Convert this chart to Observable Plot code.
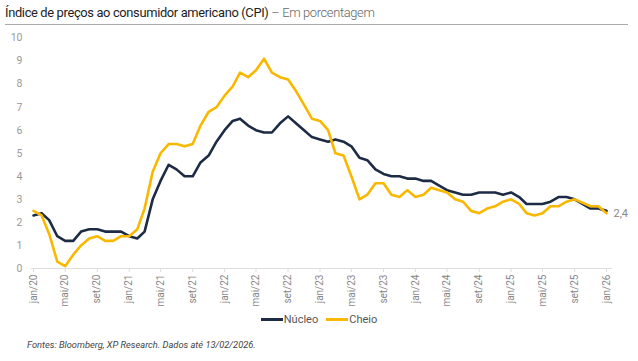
<!DOCTYPE html>
<html>
<head>
<meta charset="utf-8">
<script src="https://cdn.jsdelivr.net/npm/d3@7"></script>
<script src="https://cdn.jsdelivr.net/npm/@observablehq/plot@0.6"></script>
<style>
  html, body { margin: 0; padding: 0; background: #fff; }
  #wrap { position: relative; width: 638px; height: 361px; font-family: Roboto, "Noto Sans", sans-serif; overflow: hidden; }
  #title { position: absolute; left: 5px; top: 4.5px; font-size: 12.9px; color: #222; letter-spacing: -0.35px; white-space: nowrap; }
  #title .sub { color: #666; font-weight: 300; }
  #sep { position: absolute; left: 5px; top: 23.5px; width: 623px; height: 1.5px; background: #aaa; }
  #chart { position: absolute; left: 0; top: 28px; }
  #legend { position: absolute; top: 313px; left: 0; width: 638px; display: flex; justify-content: center; font-size: 11px; color: #555; }
  #legend .item { display: flex; align-items: center; margin: 0 4px; }
  #legend .sw { display: inline-block; width: 22px; height: 2.5px; margin-right: 1px; }
  #caption { position: absolute; left: 27px; top: 339px; font-size: 9.3px; font-style: italic; color: #444; }
</style>
</head>
<body>
<div id="wrap">
  <div id="title">Índice de preços ao consumidor americano (CPI) <span class="sub">– Em porcentagem</span></div>
  <div id="sep"></div>
  <div id="chart"></div>
  <div id="legend"></div>
  <div id="caption">Fontes: Bloomberg, XP Research. Dados até 13/02/2026.</div>
</div>
<script>
// Month labels (pt-BR)
const monthNames = ["jan","fev","mar","abr","mai","jun","jul","ago","set","out","nov","dez"];
const firstYear = 2020;
const seriesNames = ["Núcleo", "Cheio"];
const seriesColors = ["#1d2b44", "#f9b800"];

// Monthly YoY %, jan/20 .. jan/26 (out/25 not published)
const nucleo = [
  2.3, 2.4, 2.1, 1.4, 1.2, 1.2, 1.6, 1.7, 1.7, 1.6, 1.6, 1.6,
  1.4, 1.3, 1.6, 3.0, 3.8, 4.5, 4.3, 4.0, 4.0, 4.6, 4.9, 5.5,
  6.0, 6.4, 6.5, 6.2, 6.0, 5.9, 5.9, 6.3, 6.6, 6.3, 6.0, 5.7,
  5.6, 5.5, 5.6, 5.5, 5.3, 4.8, 4.7, 4.3, 4.1, 4.0, 4.0, 3.9,
  3.9, 3.8, 3.8, 3.6, 3.4, 3.3, 3.2, 3.2, 3.3, 3.3, 3.3, 3.2,
  3.3, 3.1, 2.8, 2.8, 2.8, 2.9, 3.1, 3.1, 3.0, null, 2.6, 2.6,
  2.5
];
const cheio = [
  2.5, 2.3, 1.5, 0.3, 0.1, 0.6, 1.0, 1.3, 1.4, 1.2, 1.2, 1.4,
  1.4, 1.7, 2.6, 4.2, 5.0, 5.4, 5.4, 5.3, 5.4, 6.2, 6.8, 7.0,
  7.5, 7.9, 8.5, 8.3, 8.6, 9.1, 8.5, 8.3, 8.2, 7.7, 7.1, 6.5,
  6.4, 6.0, 5.0, 4.9, 4.0, 3.0, 3.2, 3.7, 3.7, 3.2, 3.1, 3.4,
  3.1, 3.2, 3.5, 3.4, 3.3, 3.0, 2.9, 2.5, 2.4, 2.6, 2.7, 2.9,
  3.0, 2.8, 2.4, 2.3, 2.4, 2.7, 2.7, 2.9, 3.0, null, 2.7, 2.7,
  2.4
];
const yTicks = [0,1,2,3,4,5,6,7,8,9,10];
const lastLabel = "2,4";

const dateOf = i => new Date(Date.UTC(firstYear + Math.floor(i / 12), i % 12, 1));
const rows = [];
[nucleo, cheio].forEach((arr, s) => {
  arr.forEach((v, i) => {
    if (v != null) rows.push({date: dateOf(i), value: v, serie: seriesNames[s]});
  });
});
const nRows = rows.filter(d => d.serie === "Núcleo");
const cRows = rows.filter(d => d.serie === "Cheio");
const lastC = cRows[cRows.length - 1];

const xTicks = [];
for (let i = 0; i < nucleo.length; i += 4) xTicks.push(dateOf(i));
const fmt = d => monthNames[d.getUTCMonth()] + "/" + String(d.getUTCFullYear()).slice(2);

const plot = Plot.plot({
  width: 638,
  height: 282,
  marginTop: 9.5,
  marginBottom: 42,
  marginLeft: 33,
  marginRight: 32,
  style: {fontFamily: "Roboto, 'Noto Sans', sans-serif", fontSize: "10px", background: "transparent"},
  x: {type: "utc", domain: [dateOf(0), dateOf(nucleo.length - 1)]},
  y: {domain: [0, 10]},
  marks: [
    Plot.ruleY([0], {stroke: "#ddd", strokeWidth: 1, insetLeft: -2, insetRight: -6}),
    Plot.axisY(yTicks, {tickSize: 0, tickPadding: 11, fill: "#999", fontSize: 10.5, label: null}),
    Plot.axisX(xTicks, {tickFormat: fmt, tickRotate: -90, tickSize: 4, tickPadding: 2, stroke: "#ddd", fill: "#888", fontSize: 10, label: null}),
    Plot.lineY(nRows, {x: "date", y: "value", stroke: seriesColors[0], strokeWidth: 2.6}),
    Plot.lineY(cRows, {x: "date", y: "value", stroke: seriesColors[1], strokeWidth: 2.6}),
    Plot.text([lastC], {x: "date", y: "value", text: () => lastLabel, dx: 7, textAnchor: "start", fill: "#888", fontSize: 11})
  ]
});
document.getElementById("chart").appendChild(plot);

const legend = document.getElementById("legend");
seriesNames.forEach((n, i) => {
  const it = document.createElement("div");
  it.className = "item";
  it.innerHTML = `<span class="sw" style="background:${seriesColors[i]}"></span><span>${n}</span>`;
  legend.appendChild(it);
});
</script>
</body>
</html>
